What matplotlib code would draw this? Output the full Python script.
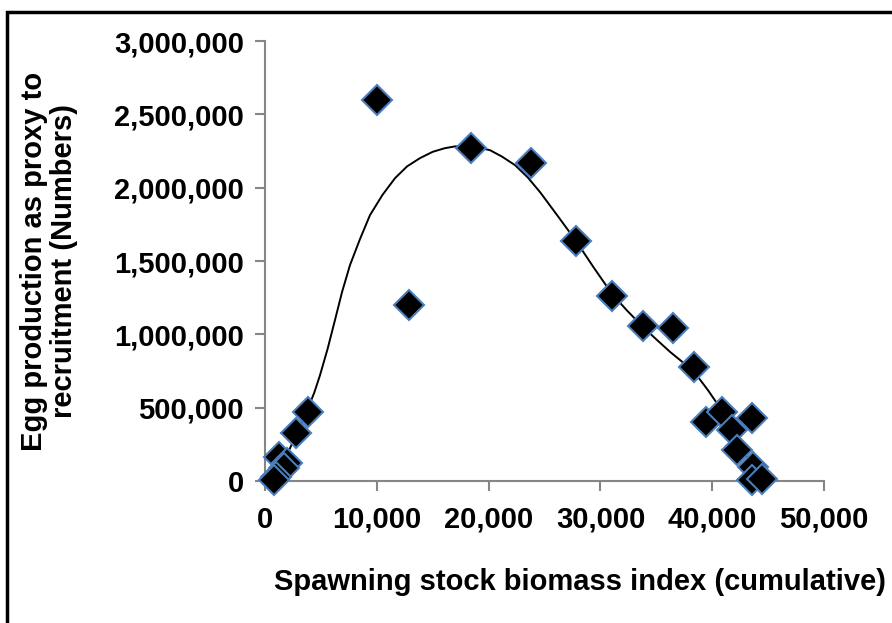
import matplotlib.pyplot as plt
import matplotlib.patches as patches
from matplotlib.ticker import FuncFormatter

plt.rcParams["font.family"] = ["Liberation Sans", "DejaVu Sans"]
plt.rcParams["font.weight"] = "bold"

# observed points: spawning stock biomass vs egg production
ssb = [10000, 18400, 23800, 27800, 12900, 31000, 33800, 36500, 38400,
       3850, 2770, 1300, 2000, 1700, 1000, 800,
       39400, 40900, 43500, 41800, 42200, 43600, 43500, 44400]
eggs = [2600000, 2270000, 2170000, 1640000, 1200000, 1260000, 1060000, 1045000, 775000,
        470000, 327000, 160000, 125000, 90000, 30000, 5000,
        400000, 470000, 430000, 348000, 211000, 95000, 5000, 15000]

# fitted trend line
fit_x = [984, 1789, 2773, 3300, 3846, 4400, 4919, 5600, 6261, 6900, 7603, 8500, 9392, 10500,
         11628, 12700, 13864, 15000, 16100, 17000, 17889, 19000, 20125, 21200,
         22361, 23500, 24597, 26200, 27818, 29400, 31038, 32400, 33810, 35000,
         36225, 37350, 38461, 39600, 40698, 41600, 42487, 43200, 43828, 44454]
fit_y = [0, 150000, 310000, 400000, 495000, 600000, 720000, 900000, 1097000, 1290000,
         1472000, 1650000, 1813000, 1950000, 2065000, 2145000, 2202000, 2245000, 2270000,
         2282000, 2284000, 2275000, 2256000, 2212000, 2154000, 2070000, 1970000, 1805000,
         1636000, 1455000, 1275000, 1160000, 1050000, 965000, 880000, 810000, 735000,
         620000, 498000, 370000, 245000, 150000, 75000, 0]

fig = plt.figure(figsize=(8.92, 6.23), dpi=100)
ax = fig.add_axes([0.297, 0.228, 0.627, 0.706])

ax.plot(fit_x, fit_y, color="black", lw=1.4, zorder=2)
ax.plot(ssb, eggs, linestyle="none", marker="D", markersize=15,
        markerfacecolor="black", markeredgecolor="#4a7ebb", markeredgewidth=1.5,
        zorder=3, clip_on=False)

ax.set_xlim(0, 50000)
ax.set_ylim(0, 3000000)
ax.set_xticks(range(0, 50001, 10000))
ax.set_yticks(range(0, 3000001, 500000))
fmt = FuncFormatter(lambda v, p: f"{int(v):,}")
ax.xaxis.set_major_formatter(fmt)
ax.yaxis.set_major_formatter(fmt)

for s in ["top", "right"]:
    ax.spines[s].set_visible(False)
for s in ["left", "bottom"]:
    ax.spines[s].set_color("#868686")
    ax.spines[s].set_linewidth(1.5)
ax.tick_params(colors="#868686", width=1.5, length=7, labelsize=21, labelcolor="black")
ax.tick_params(axis="x", pad=11)
ax.tick_params(axis="y", pad=8)
for lab in ax.get_xticklabels() + ax.get_yticklabels():
    lab.set_fontweight("bold")

ax.set_xlabel("Spawning stock biomass index (cumulative)", fontsize=21, fontweight="bold")
ax.xaxis.set_label_coords(0.564, -0.197)
ax.set_ylabel("Egg production as proxy to\nrecruitment (Numbers)", fontsize=21,
              fontweight="bold", linespacing=1.05)
ax.yaxis.set_label_coords(-0.335, 0.5)

# outer frame (right and bottom run off the picture)
fig.patches.append(patches.Rectangle((7 / 892, -0.1), 1.1, 1 - 12 / 623 + 0.1,
                                     transform=fig.transFigure, fill=False,
                                     edgecolor="black", lw=2.5))

fig.savefig("out.png", dpi=100)
